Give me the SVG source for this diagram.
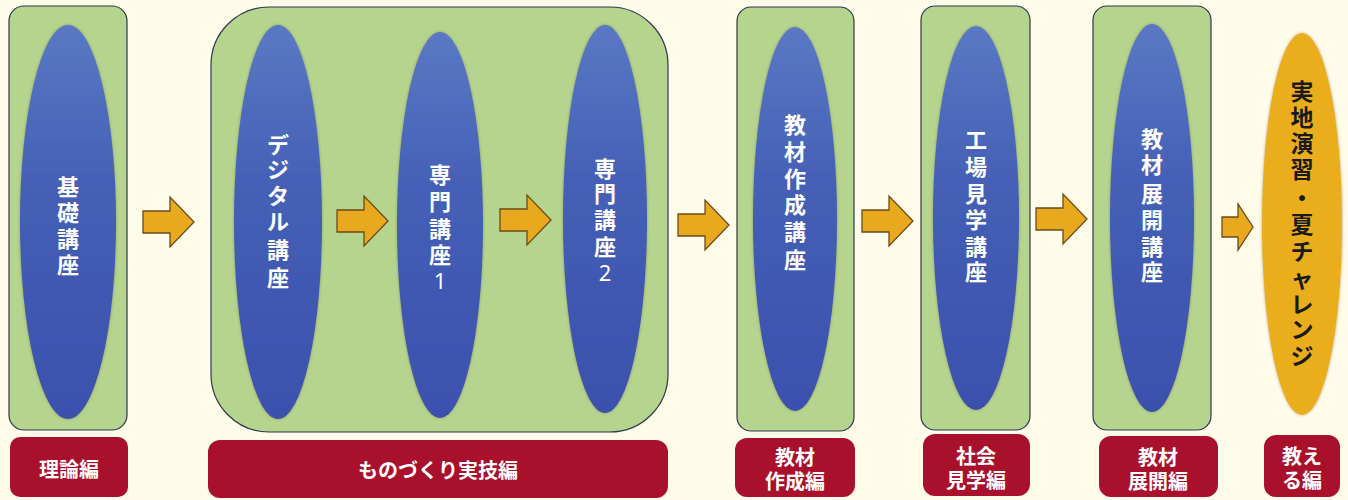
<svg xmlns="http://www.w3.org/2000/svg" width="1348" height="500" viewBox="0 0 1348 500">
<defs>
<linearGradient id="blue" x1="0" y1="0" x2="0" y2="1">
<stop offset="0" stop-color="#5a78c4"/>
<stop offset="0.4" stop-color="#4560b6"/>
<stop offset="1" stop-color="#3b50ad"/>
</linearGradient>
<filter id="soft" x="-20%" y="-10%" width="140%" height="120%">
<feGaussianBlur in="SourceAlpha" stdDeviation="1.6" result="b"/>
<feFlood flood-color="#6b5a3a" flood-opacity="0.55"/>
<feComposite in2="b" operator="in" result="s"/>
<feMerge><feMergeNode in="s"/><feMergeNode in="SourceGraphic"/></feMerge>
</filter>
<path id="arr" d="M0,-11 H27 V-25 L51,0 L27,25 V11 H0 Z"/>
<path id="arrS" d="M0,-10 H16 V-23 L31,0 L16,23 V10 H0 Z"/>
</defs>
<style>
.box{fill:#b5d58f;stroke:#2f3650;stroke-width:1.2}
.ell{fill:url(#blue);filter:url(#soft)}
.gold{fill:#eaae1c;filter:url(#soft)}
.lbl{fill:#a9102b}
.arrow{fill:#e9a91f;stroke:#6b4a1a;stroke-width:1.3}
.wt{font-family:"Noto Sans CJK JP","Noto Sans",sans-serif;font-size:22px;fill:#ffffff;text-anchor:middle;dominant-baseline:central;font-weight:700}
.bt{font-family:"Noto Sans CJK JP","Noto Sans",sans-serif;font-size:23px;fill:#1a1a1a;text-anchor:middle;dominant-baseline:central;font-weight:700}
.dg{font-family:"Noto Sans","Liberation Sans",sans-serif;font-size:22px;fill:#ffffff;text-anchor:middle;dominant-baseline:central}
.lt{font-family:"Noto Sans CJK JP","Noto Sans",sans-serif;font-size:20px;fill:#ffffff;text-anchor:middle;dominant-baseline:central;font-weight:700}
</style>
<rect width="1348" height="500" fill="#fffcea"/>

<g id="node-kiso">
<rect class="box" x="9" y="6" width="118" height="424" rx="15"/>
<ellipse class="ell" cx="68" cy="222" rx="48" ry="197"/>
<text class="wt" x="68" y="185">基</text>
<text class="wt" x="68" y="211">礎</text>
<text class="wt" x="68" y="237">講</text>
<text class="wt" x="68" y="263">座</text>
</g>
<g id="label-riron">
<rect class="lbl" x="10" y="437" width="118" height="60" rx="10"/>
<text class="lt" x="69" y="468">理論編</text>
</g>

<g id="node-monozukuri">
<rect class="box" x="211" y="7" width="457" height="425" rx="58"/>
</g>
<g id="node-digital">
<ellipse class="ell" cx="278" cy="222" rx="44" ry="197"/>
<text class="wt" x="278" y="143">デ</text>
<text class="wt" x="278" y="168">ジ</text>
<text class="wt" x="278" y="194">タ</text>
<text class="wt" x="278" y="220">ル</text>
<text class="wt" x="278" y="248">講</text>
<text class="wt" x="278" y="276">座</text>
</g>
<g id="node-senmon1">
<ellipse class="ell" cx="440" cy="225" rx="43" ry="193"/>
<text class="wt" x="440" y="173">専</text>
<text class="wt" x="440" y="200">門</text>
<text class="wt" x="440" y="227">講</text>
<text class="wt" x="440" y="253">座</text>
<text class="dg" x="440" y="280">1</text>
</g>
<g id="node-senmon2">
<ellipse class="ell" cx="605" cy="219" rx="42" ry="194"/>
<text class="wt" x="605" y="167">専</text>
<text class="wt" x="605" y="192">門</text>
<text class="wt" x="605" y="218">講</text>
<text class="wt" x="605" y="245">座</text>
<text class="dg" x="605" y="272">2</text>
</g>
<g id="label-monozukuri">
<rect class="lbl" x="208" y="440" width="460" height="58" rx="12"/>
<text class="lt" x="438" y="469">ものづくり実技編</text>
</g>

<g id="node-kyozai-sakusei">
<rect class="box" x="737" y="7" width="117" height="424" rx="14"/>
<ellipse class="ell" cx="795" cy="219" rx="42" ry="192"/>
<text class="wt" x="795" y="123">教</text>
<text class="wt" x="795" y="150">材</text>
<text class="wt" x="795" y="177">作</text>
<text class="wt" x="795" y="203">成</text>
<text class="wt" x="795" y="230">講</text>
<text class="wt" x="795" y="258">座</text>
</g>
<g id="label-kyozai-sakusei">
<rect class="lbl" x="735" y="438" width="120" height="59" rx="12"/>
<text class="lt" x="795" y="456">教材</text>
<text class="lt" x="795" y="480">作成編</text>
</g>

<g id="node-kojo">
<rect class="box" x="921" y="6" width="109" height="424" rx="14"/>
<ellipse class="ell" cx="976" cy="218" rx="43" ry="192"/>
<text class="wt" x="976" y="138">工</text>
<text class="wt" x="976" y="165">場</text>
<text class="wt" x="976" y="192">見</text>
<text class="wt" x="976" y="218">学</text>
<text class="wt" x="976" y="245">講</text>
<text class="wt" x="976" y="270">座</text>
</g>
<g id="label-shakai">
<rect class="lbl" x="923" y="434" width="107" height="62" rx="12"/>
<text class="lt" x="976" y="455">社会</text>
<text class="lt" x="976" y="479">見学編</text>
</g>

<g id="node-kyozai-tenkai">
<rect class="box" x="1093" y="6" width="118" height="424" rx="14"/>
<ellipse class="ell" cx="1152" cy="218" rx="42" ry="194"/>
<text class="wt" x="1152" y="137">教</text>
<text class="wt" x="1152" y="163">材</text>
<text class="wt" x="1152" y="192">展</text>
<text class="wt" x="1152" y="218">開</text>
<text class="wt" x="1152" y="245">講</text>
<text class="wt" x="1152" y="270">座</text>
</g>
<g id="label-tenkai">
<rect class="lbl" x="1099" y="436" width="119" height="61" rx="12"/>
<text class="lt" x="1158" y="456">教材</text>
<text class="lt" x="1158" y="480">展開編</text>
</g>

<g id="node-jicchi">
<ellipse class="gold" cx="1302" cy="224" rx="40" ry="191"/>
<text class="bt" x="1302" y="90">実</text>
<text class="bt" x="1302" y="116">地</text>
<text class="bt" x="1302" y="142">演</text>
<text class="bt" x="1302" y="168">習</text>
<text class="bt" x="1302" y="197">・</text>
<text class="bt" x="1302" y="223">夏</text>
<text class="bt" x="1302" y="250">チ</text>
<text class="bt" x="1302" y="277">ャ</text>
<text class="bt" x="1302" y="303">レ</text>
<text class="bt" x="1302" y="328">ン</text>
<text class="bt" x="1302" y="355">ジ</text>
</g>
<g id="label-oshieru">
<rect class="lbl" x="1264" y="435" width="76" height="62" rx="12"/>
<text class="lt" x="1302" y="455">教え</text>
<text class="lt" x="1302" y="479">る編</text>
</g>

<g id="connectors">
<use href="#arr" class="arrow" x="143" y="222"/>
<use href="#arr" class="arrow" x="337" y="221"/>
<use href="#arr" class="arrow" x="500" y="220"/>
<use href="#arr" class="arrow" x="678" y="225"/>
<use href="#arr" class="arrow" x="862" y="221"/>
<use href="#arr" class="arrow" x="1036" y="219"/>
<use href="#arrS" class="arrow" x="1222" y="227"/>
</g>
</svg>
